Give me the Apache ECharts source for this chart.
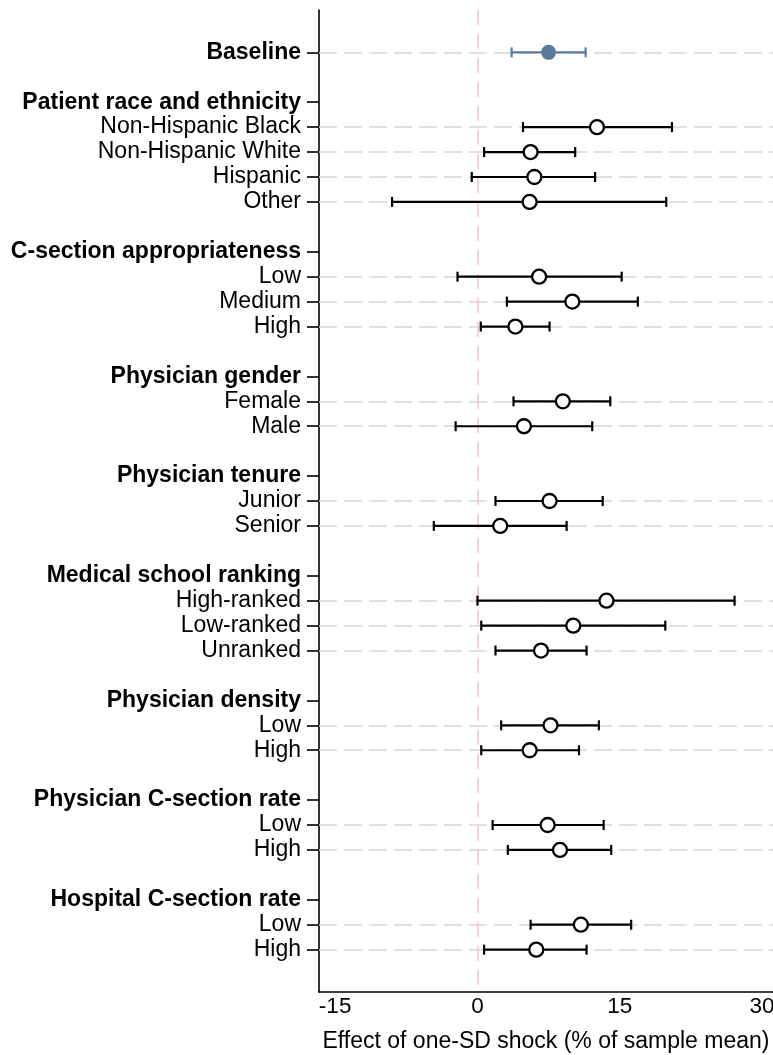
<!DOCTYPE html>
<html>
<head>
<meta charset="utf-8">
<title>Effect of one-SD shock</title>
<script src="https://cdn.jsdelivr.net/npm/echarts@6/dist/echarts.min.js"></script>
<style>
  html, body { margin: 0; padding: 0; background: #fff; }
  #chart { width: 773px; height: 1055px; }
</style>
</head>
<body>
<div id="chart"></div>
<script>
// Row labels, top to bottom ('' = spacer row between groups)
const rowLabels = [
  'Baseline', '',
  'Patient race and ethnicity', 'Non-Hispanic Black', 'Non-Hispanic White', 'Hispanic', 'Other', '',
  'C-section appropriateness', 'Low', 'Medium', 'High', '',
  'Physician gender', 'Female', 'Male', '',
  'Physician tenure', 'Junior', 'Senior', '',
  'Medical school ranking', 'High-ranked', 'Low-ranked', 'Unranked', '',
  'Physician density', 'Low', 'High', '',
  'Physician C-section rate', 'Low', 'High', '',
  'Hospital C-section rate', 'Low', 'High'
];

// Labels drawn in bold (overall estimate and group headings)
const boldLabels = [
  'Baseline', 'Patient race and ethnicity', 'C-section appropriateness',
  'Physician gender', 'Physician tenure', 'Medical school ranking',
  'Physician density', 'Physician C-section rate', 'Hospital C-section rate'
];

// Point estimates and 95% CI bounds per row (null = no estimate on that row)
const estimates = [
  7.5, null,
  null, 12.6, 5.6, 6.0, 5.5, null,
  null, 6.5, 10.0, 4.0, null,
  null, 9.0, 4.9, null,
  null, 7.6, 2.4, null,
  null, 13.6, 10.1, 6.7, null,
  null, 7.7, 5.5, null,
  null, 7.4, 8.7, null,
  null, 10.9, 6.2
];
const ciLower = [
  3.6, null,
  null, 4.8, 0.7, -0.6, -9.0, null,
  null, -2.1, 3.1, 0.35, null,
  null, 3.8, -2.3, null,
  null, 1.9, -4.6, null,
  null, 0.0, 0.4, 1.9, null,
  null, 2.5, 0.4, null,
  null, 1.6, 3.2, null,
  null, 5.6, 0.7
];
const ciUpper = [
  11.4, null,
  null, 20.5, 10.3, 12.4, 19.9, null,
  null, 15.2, 16.9, 7.6, null,
  null, 14.0, 12.1, null,
  null, 13.2, 9.4, null,
  null, 27.1, 19.8, 11.5, null,
  null, 12.8, 10.7, null,
  null, 13.3, 14.1, null,
  null, 16.2, 11.5
];

const xTickValues = [-15, 0, 15, 30];
const xAxisTitle = 'Effect of one-SD shock (% of sample mean)';

const FONT = '"Liberation Sans", Arial, Helvetica, sans-serif';
const BASE_COLOR = '#5a7a9b';

// Row positions (1-based) used by the value y axis
const labelledRows = [];
const estimateRows = [];
rowLabels.forEach((lbl, i) => {
  if (lbl !== '') labelledRows.push(i + 1);
  if (estimates[i] !== null) estimateRows.push(i + 1);
});

const baselineIdx = rowLabels.indexOf('Baseline');
const pointData = [];
const ciData = [];
estimateRows.forEach(r => {
  const i = r - 1;
  if (i === baselineIdx) return;
  pointData.push([estimates[i], r]);
  ciData.push([r, ciLower[i], ciUpper[i], 0]);
});
const basePoint = [[estimates[baselineIdx], baselineIdx + 1]];
ciData.unshift([baselineIdx + 1, ciLower[baselineIdx], ciUpper[baselineIdx], 1]);

const chart = echarts.init(document.getElementById('chart'), null, { renderer: 'canvas' });

chart.setOption({
  animation: false,
  backgroundColor: '#fff',
  textStyle: { fontFamily: FONT },
  grid: { left: 319, right: 0, top: 10, bottom: 63, containLabel: false, outerBoundsMode: 'none' },
  xAxis: {
    type: 'value',
    min: -16.7,
    max: 31.15,
    axisLine: { show: true, onZero: false, lineStyle: { color: '#000', width: 1.6 } },
    axisTick: { show: false },
    splitLine: { show: false },
    axisLabel: {
      customValues: xTickValues,
      color: '#000',
      fontSize: 22.5,
      fontFamily: FONT,
      margin: 3
    },
    name: xAxisTitle,
    nameLocation: 'middle',
    nameGap: 38,
    nameTextStyle: { color: '#000', fontSize: 23, fontFamily: FONT }
  },
  yAxis: {
    type: 'value',
    inverse: true,
    min: -0.7,
    max: 38.7,
    axisLine: { show: true, onZero: false, lineStyle: { color: '#000', width: 1.6 } },
    axisTick: {
      show: true,
      customValues: labelledRows,
      length: 12,
      lineStyle: { color: '#000', width: 1.6 }
    },
    splitLine: { show: false },
    axisLabel: {
      customValues: labelledRows,
      margin: 18,
      formatter: v => {
        const lbl = rowLabels[Math.round(v) - 1] || '';
        return boldLabels.includes(lbl) ? '{b|' + lbl + '}' : '{n|' + lbl + '}';
      },
      rich: {
        b: { fontSize: 23, fontWeight: 'bold', color: '#000', fontFamily: FONT },
        n: { fontSize: 23, color: '#000', fontFamily: FONT }
      }
    }
  },
  series: [
    {
      // guide lines: dashed grey rows for each estimate, pink reference at zero
      type: 'scatter',
      data: [],
      silent: true,
      z: 1,
      markLine: {
        silent: true,
        z: 1,
        symbol: ['none', 'none'],
        label: { show: false },
        animation: false,
        data: estimateRows.map(r => ({
          yAxis: r,
          lineStyle: { color: '#d6d6d6', width: 1.6, type: [18, 7] }
        })).concat([{
          xAxis: 0,
          lineStyle: { color: '#f6c4c6', width: 1.5, type: [15, 9] }
        }])
      }
    },
    {
      // confidence interval bars with end caps
      type: 'custom',
      z: 10,
      data: ciData,
      encode: { x: [1, 2], y: 0 },
      renderItem: (params, api) => {
        const row = api.value(0);
        const p0 = api.coord([api.value(1), row]);
        const p1 = api.coord([api.value(2), row]);
        const color = api.value(3) === 1 ? BASE_COLOR : '#000';
        const cap = 5;
        const style = { stroke: color, lineWidth: 2.2 };
        return {
          type: 'group',
          children: [
            { type: 'line', shape: { x1: p0[0], y1: p0[1], x2: p1[0], y2: p1[1] }, style },
            { type: 'line', shape: { x1: p0[0], y1: p0[1] - cap, x2: p0[0], y2: p0[1] + cap }, style },
            { type: 'line', shape: { x1: p1[0], y1: p1[1] - cap, x2: p1[0], y2: p1[1] + cap }, style }
          ]
        };
      }
    },
    {
      type: 'scatter',
      z: 11,
      data: pointData,
      symbol: 'circle',
      symbolSize: 14,
      itemStyle: { color: '#fff', borderColor: '#000', borderWidth: 2.3, opacity: 1 }
    },
    {
      type: 'scatter',
      z: 11,
      data: basePoint,
      symbol: 'circle',
      symbolSize: 15,
      itemStyle: { color: BASE_COLOR, opacity: 1 }
    }
  ]
});
</script>
</body>
</html>
